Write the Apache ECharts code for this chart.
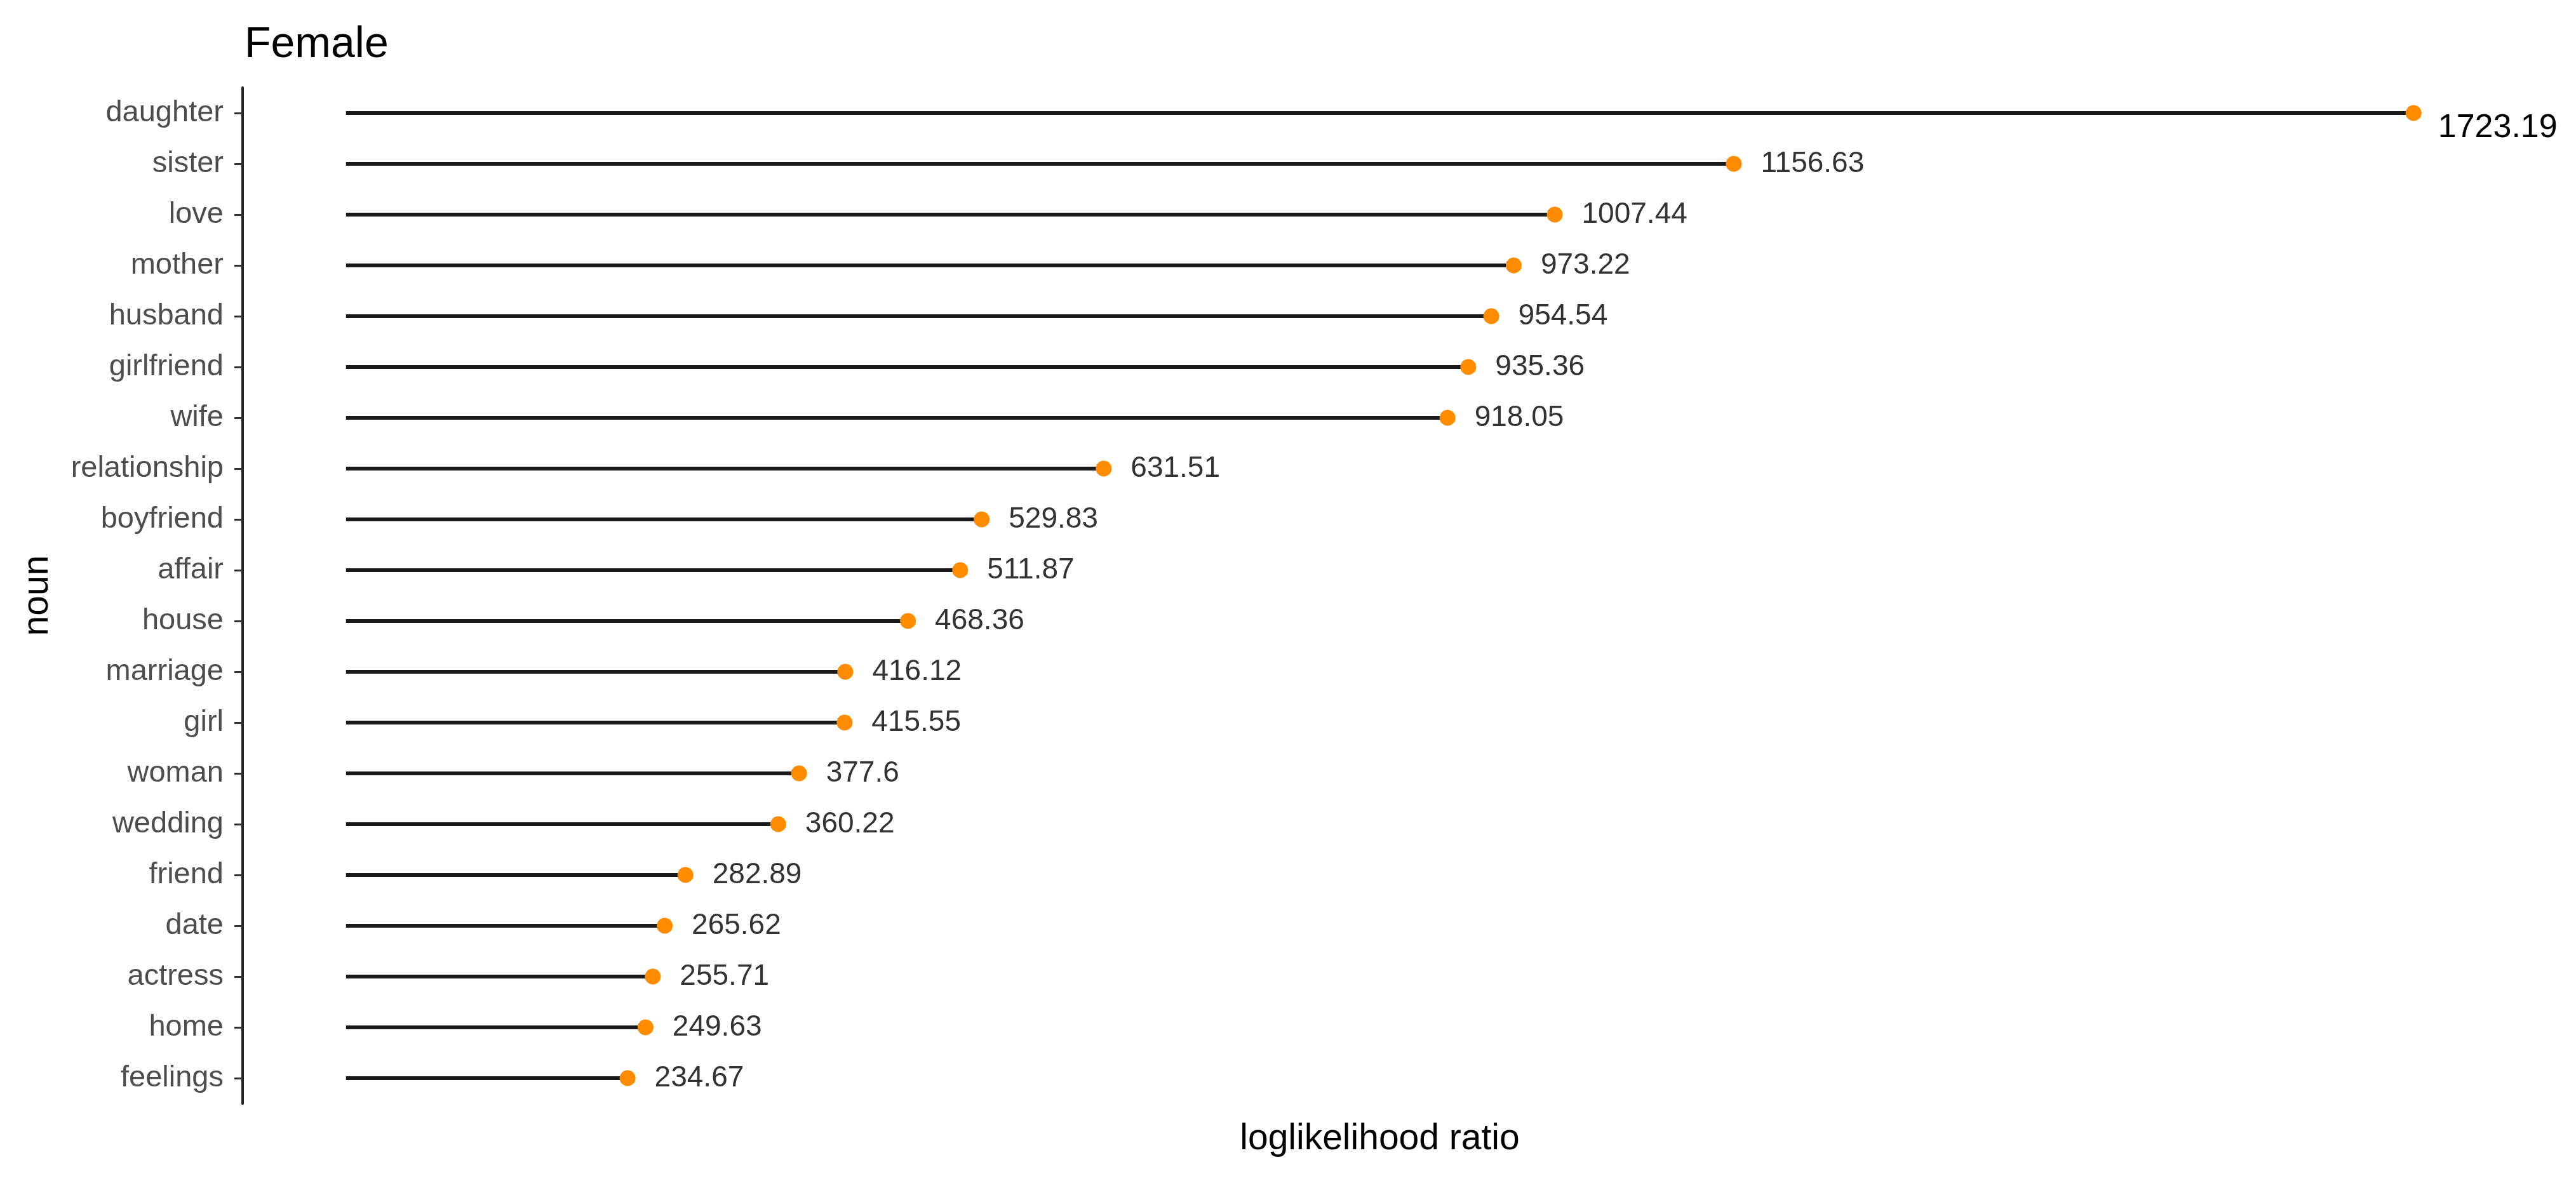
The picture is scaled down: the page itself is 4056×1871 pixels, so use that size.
<!DOCTYPE html>
<html>
<head>
<meta charset="utf-8">
<script src="https://cdn.jsdelivr.net/npm/echarts@6/dist/echarts.min.js"></script>
<style>
html,body{margin:0;padding:0;background:#fff;}
#chart{width:4056px;height:1871px;}
</style>
</head>
<body>
<div id="chart"></div>
<script>
const nouns = ['daughter','sister','love','mother','husband','girlfriend','wife','relationship','boyfriend','affair','house','marriage','girl','woman','wedding','friend','date','actress','home','feelings'];
const llr = [1723.19,1156.63,1007.44,973.22,954.54,935.36,918.05,631.51,529.83,511.87,468.36,416.12,415.55,377.6,360.22,282.89,265.62,255.71,249.63,234.67];
const chartTitle = 'Female';
const xTitle = 'loglikelihood ratio';
const yTitle = 'noun';

const FONT = '"Liberation Sans", Arial, Helvetica, sans-serif';
const maxV = Math.max(...llr);
const pad = maxV * 0.05;

const pointData = llr.map((v, i) => {
  const item = { value: v };
  if (i === 0) {
    item.label = { fontSize: 52, color: '#000000', distance: 26, offset: [0, 24] };
  }
  return item;
});

const chart = echarts.init(document.getElementById('chart'), null, { renderer: 'canvas' });
chart.setOption({
  backgroundColor: '#ffffff',
  animation: false,
  title: {
    text: chartTitle,
    left: 380,
    top: 32,
    textStyle: { fontFamily: FONT, fontSize: 68, fontWeight: 'normal', color: '#000000' }
  },
  grid: { left: 382, right: 93, top: 138, bottom: 133, containLabel: false },
  xAxis: {
    type: 'value',
    min: -pad,
    max: maxV + pad,
    name: xTitle,
    nameLocation: 'middle',
    nameGap: 28,
    nameTextStyle: { fontFamily: FONT, fontSize: 57, color: '#000000' },
    axisLine: { show: false, onZero: false },
    axisTick: { show: false },
    axisLabel: { show: false },
    splitLine: { show: false }
  },
  yAxis: {
    type: 'category',
    data: nouns,
    inverse: true,
    name: yTitle,
    nameLocation: 'middle',
    nameRotate: 90,
    nameGap: 294,
    nameTextStyle: { fontFamily: FONT, fontSize: 57, color: '#000000' },
    axisLine: { show: true, onZero: false, lineStyle: { color: '#222222', width: 4 } },
    axisTick: { show: true, alignWithLabel: true, length: 13, lineStyle: { color: '#333333', width: 3 } },
    axisLabel: { fontFamily: FONT, fontSize: 47, color: '#4d4d4d', margin: 30 },
    splitLine: { show: false }
  },
  series: [
    {
      type: 'bar',
      data: llr,
      barWidth: 6,
      itemStyle: { color: '#1a1a1a' },
      silent: true,
      z: 1
    },
    {
      type: 'scatter',
      data: pointData,
      symbol: 'circle',
      symbolSize: 25,
      itemStyle: { color: '#FF8C00', opacity: 1 },
      label: {
        show: true,
        position: 'right',
        distance: 30,
        fontFamily: FONT,
        fontSize: 46,
        color: '#333333',
        formatter: p => String(p.value)
      },
      z: 3
    }
  ]
});
</script>
</body>
</html>
